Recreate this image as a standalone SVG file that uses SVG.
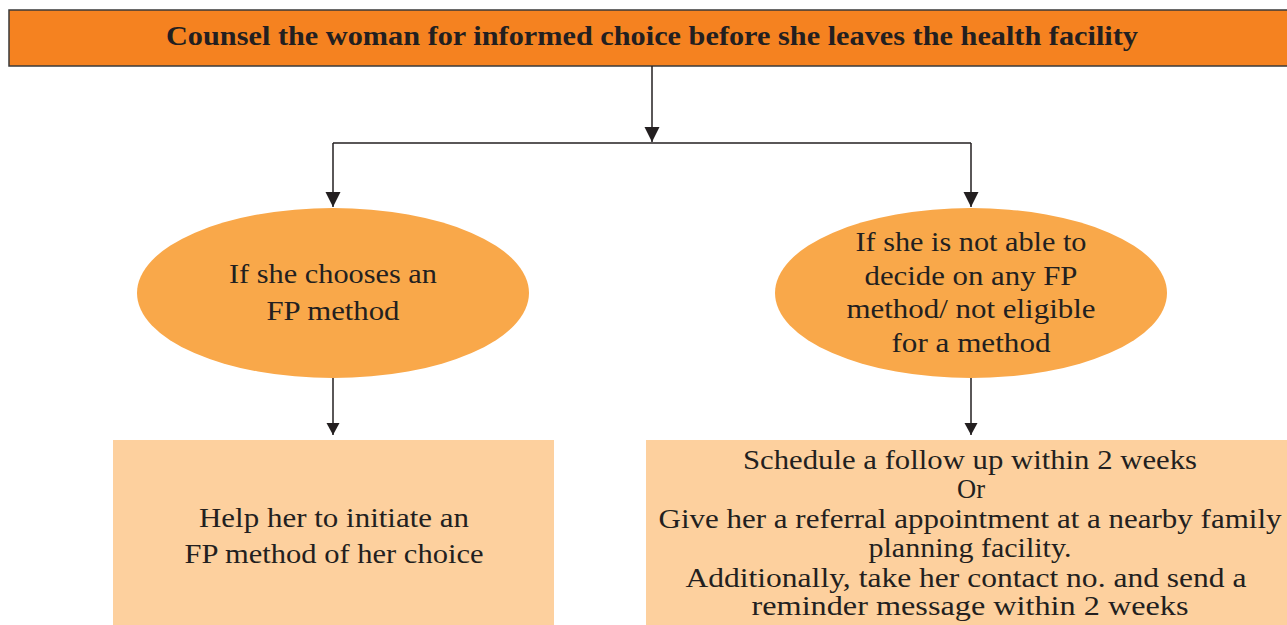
<svg xmlns="http://www.w3.org/2000/svg" width="1287" height="625" viewBox="0 0 1287 625">
<style>
.t{font-family:"Liberation Serif","DejaVu Serif",serif;fill:#231F20;text-anchor:middle;font-size:28px}
.b{font-weight:bold;font-size:28px}
.c{stroke:#231F20;stroke-width:1.5;fill:none}
.ell{fill:#F9A84A}
.box{fill:#FDD09E}
</style>
<defs>
<marker id="a" markerUnits="userSpaceOnUse" markerWidth="16" markerHeight="16" refX="15" refY="7.5" orient="auto"><path d="M0,0L15,7.5L0,15z" fill="#231F20"/></marker>
<marker id="s" markerUnits="userSpaceOnUse" markerWidth="14" markerHeight="14" refX="12" refY="6.5" orient="auto"><path d="M0,0L12,6.5L0,13z" fill="#231F20"/></marker>
</defs>
<rect width="1287" height="625" fill="#fff"/>
<g id="top">
<rect x="9" y="10" width="1290" height="56" fill="#F58220" stroke="#3a3a3a" stroke-width="1.5"/>
<text class="t b" x="652" y="45" textLength="972" lengthAdjust="spacingAndGlyphs">Counsel the woman for informed choice before she leaves the health facility</text>
</g>
<g id="connectors">
<line class="c" x1="652" y1="66" x2="652" y2="142" marker-end="url(#a)"/>
<polyline class="c" points="333,143 971,143"/>
<line class="c" x1="333" y1="143" x2="333" y2="207" marker-end="url(#a)"/>
<line class="c" x1="971" y1="143" x2="971" y2="207" marker-end="url(#a)"/>
<line class="c" x1="333" y1="378" x2="333" y2="435" marker-end="url(#s)"/>
<line class="c" x1="971" y1="378" x2="971" y2="435" marker-end="url(#s)"/>
</g>
<g id="choose">
<ellipse class="ell" cx="333" cy="293" rx="196" ry="85"/>
<text class="t" x="333" y="283" textLength="208" lengthAdjust="spacingAndGlyphs">If she chooses an</text>
<text class="t" x="333" y="320" textLength="133" lengthAdjust="spacingAndGlyphs">FP method</text>
</g>
<g id="notable">
<ellipse class="ell" cx="971" cy="293" rx="196" ry="85"/>
<text class="t" x="971" y="251" textLength="231" lengthAdjust="spacingAndGlyphs">If she is not able to</text>
<text class="t" x="971" y="285" textLength="213" lengthAdjust="spacingAndGlyphs">decide on any FP</text>
<text class="t" x="971" y="318" textLength="249" lengthAdjust="spacingAndGlyphs">method/ not eligible</text>
<text class="t" x="971" y="352" textLength="159" lengthAdjust="spacingAndGlyphs">for a method</text>
</g>
<g id="initiate">
<rect class="box" x="113" y="440" width="441" height="185"/>
<text class="t" x="334" y="527" textLength="270" lengthAdjust="spacingAndGlyphs">Help her to initiate an</text>
<text class="t" x="334" y="563" textLength="299" lengthAdjust="spacingAndGlyphs">FP method of her choice</text>
</g>
<g id="followup">
<rect class="box" x="646" y="440" width="641" height="185"/>
<text class="t" x="970" y="469" textLength="454" lengthAdjust="spacingAndGlyphs">Schedule a follow up within 2 weeks</text>
<text class="t" x="971" y="498" textLength="28" lengthAdjust="spacingAndGlyphs">Or</text>
<text class="t" x="970" y="528" textLength="623" lengthAdjust="spacingAndGlyphs">Give her a referral appointment at a nearby family</text>
<text class="t" x="970" y="557" textLength="203" lengthAdjust="spacingAndGlyphs">planning facility.</text>
<text class="t" x="966" y="587" textLength="561" lengthAdjust="spacingAndGlyphs">Additionally, take her contact no. and send a</text>
<text class="t" x="970" y="615" textLength="437" lengthAdjust="spacingAndGlyphs">reminder message within 2 weeks</text>
</g>
</svg>
